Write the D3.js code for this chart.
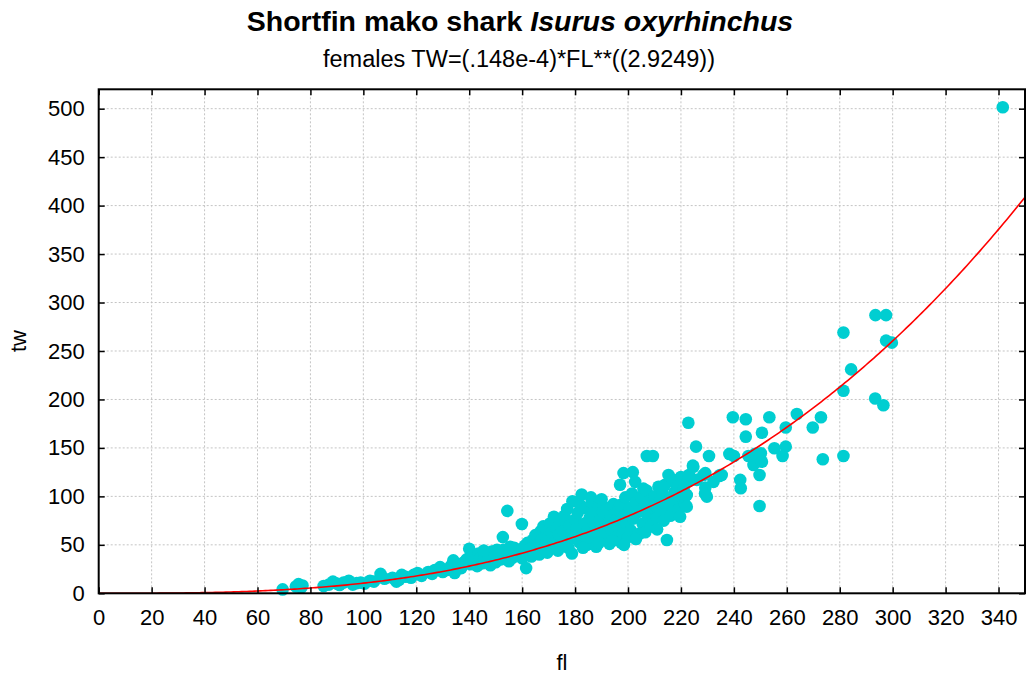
<!DOCTYPE html>
<html>
<head>
<meta charset="utf-8">
<script src="https://cdn.jsdelivr.net/npm/d3@7"></script>
<style>
  html, body { margin: 0; padding: 0; background: #fff; }
  svg { display: block; font-family: "Liberation Sans", Arial, sans-serif; }
</style>
</head>
<body>
<svg id="chart" width="1026" height="678"></svg>
<script>
// Fork length (fl, cm) and total weight (tw, kg) of female shortfin makos
const smallSharks = [
  [69.5,4],[74.5,7],[75.5,9.5],[76.5,6],[77,8],[85,7.5],[87,9],[88.5,12],[90,10],[91,8.5],
  [92.5,11],[94.5,13],[96,9],[97.5,10.5],[99,11],[100.5,10],[102.5,13],[104,12],[106.5,20],[108,15],
  [111,16],[112.5,12],[113.5,14],[114.5,19],[116,17],[118,16],[119,19],[120.5,21],[122,18],[124.5,22],
  [126,20],[127,24],[129,27],[130,22],[131.5,24],[133,28],[134,34],[134.5,21],[136,30],[137,26],
  [138,32],[139,35]
];

const midSharks = [
  [140,46],[140.5,30],[141,38],[142,33],[143,28],[143.5,41],[144,36],[145,31],[146,39],[147,34],
  [148,29],[148.5,43],[149,37],[150,32],[151,40],[152,35],[152.7,58],[153,45],[154.4,85],[154,38],
  [155,33],[156,42],[156.5,37],[157,47],[158,40],[159,44],[159.9,71.5],[160,36],[161.5,26],[161,49],
  [162,52],[162.5,42],[163,46],[163.5,38],[164,55],[164.5,48],[165,60],[165.5,44],[166,51],[166.5,40],
  [167,64],[167.5,56],[168,69],[168.5,47],[169,52],[169.5,42],[170,58],[170.5,72],[171,63],[171.5,49],
  [172,79],[172.5,54],[173,67],[173.5,44],[174,60],[174.5,75],[175,51],[175.5,64],[176,80],[176.5,56],
  [177,87],[177.5,47],[178,70],[178.5,62],[178.8,41],[179,95],[179.5,57],[180,76],[180.5,66],[181,83],
  [181.5,53],[182,91],[182.5,102],[183,60],[183.5,72],[184,88],[184.5,50],[185,66],[185.5,78],[186,99],
  [186.3,94],[186.5,57],[187,83],[187.5,70],[188,48],[188.5,62],[189,90],[189.5,75],[190,55],[190.5,84],
  [191,67],[191.5,59],[192,88],[192.5,72],[193,51],[193.5,80],[194,64],[194.5,92],[195,57],[195.5,76],
  [196,69],[196.5,86],[197,91],[197,112],[197.5,52],[198,62],[198.3,124],[198.5,80],[199,99],[199.5,72],
  [200,58],[200.5,88],[201,65],[201.5,103],[201.8,125],[202,77],[202.7,115],[203,94],[203.5,60],[204,84],
  [204.6,62],[205,99],[205.5,72],[205.8,108],[206,88],[206.5,63],[207,106],[207.1,141.7],[207.5,80],[208,95],
  [208.5,69],[209,86],[209.4,141.7],[209.6,76],[210,100],[210.5,90],[211,78],[211.5,110],[212,96],[212.5,84],
  [213,104],[213.5,75],[214,112],[214.7,55],[215,90],[215.3,122],[215.6,97],[216,80],[217,117],[217.5,104],
  [218,94],[218.5,110],[219,86],[219.7,79],[220,120],[220.5,98],[221,108],[221.5,92],[222.2,101.5],[222.2,89.4],
  [222.5,115],[222.8,176],[223,122],[224.5,131.7],[224.7,130.6],[225.7,151.3],[226,117],
  [145.5,44],[150.5,45],[155.5,48],[183,47],[189,52],[194,54],[198.5,50],[203,56],[211,66],[190,97]
];

const largeSharks = [
  [228.5,122],[229.2,124],[229.2,109],[229.8,99.7],[229.1,103],[230.6,141.7],[232.3,115],[234.5,121],[234.8,122],[235.4,122],
  [238.3,143.8],[239.6,181.6],[240,141.7],[242.4,117],[242.6,108.4],[244.5,179.6],[244.5,161.6],[245.5,141.7],[247.4,132.4],[248,143.8],
  [249.7,122],[249.7,90],[250.2,144.5],[250.6,135.8],[250.6,165.7],[253.4,181.6],[255.3,149.6],[258.4,141.7],[259.6,151.3],[259.6,171],
  [263.8,185],[269.8,171],[272.9,181.6],[273.6,138.3],[281.4,141.7],[281.4,209],[281.4,269],[284.3,231],[293.4,201],[293.5,287],
  [296.5,194],[297.5,287],[297.5,260.7],[299.7,258.6],[341.6,501.5]
];

// Fitted length-weight relation TW = a * FL^b
const coefA = 0.148e-4;
const coefB = 2.9249;

const xTicks = d3.range(0, 341, 20);
const yTicks = d3.range(0, 501, 50);

const titleMain = "Shortfin mako shark ";
const titleSpecies = "Isurus oxyrhinchus";
const subtitle = "females TW=(.148e-4)*FL**((2.9249))";
const xLabel = "fl";
const yLabel = "tw";

const svg = d3.select("#chart");
const plotLeft = 98.7, plotRight = 1025, plotTop = 89.3, plotBottom = 593.3;

const x = d3.scaleLinear().domain([0, 350]).range([plotLeft, plotRight]);
const y = d3.scaleLinear().domain([0, 520]).range([plotBottom, plotTop]);

// grid
const grid = svg.append("g")
  .attr("stroke", "#c4c4c4").attr("stroke-width", 1).attr("stroke-dasharray", "2,2");
grid.selectAll("line.v").data(xTicks.filter(d => d > 0)).join("line")
  .attr("x1", d => x(d)).attr("x2", d => x(d)).attr("y1", plotTop).attr("y2", plotBottom);
grid.selectAll("line.h").data(yTicks.filter(d => d > 0)).join("line")
  .attr("x1", plotLeft).attr("x2", plotRight).attr("y1", d => y(d)).attr("y2", d => y(d));

// points
const allSharks = smallSharks.concat(midSharks, largeSharks);
svg.append("g").selectAll("circle").data(allSharks).join("circle")
  .attr("cx", d => x(d[0])).attr("cy", d => y(d[1])).attr("r", 6.3)
  .attr("fill", "#00CED1");

// fitted curve
const curveData = d3.range(0, 350.01, 1).map(f => [f, coefA * Math.pow(f, coefB)]);
svg.append("clipPath").attr("id", "plotClip").append("rect")
  .attr("x", plotLeft).attr("y", plotTop).attr("width", plotRight - plotLeft).attr("height", plotBottom - plotTop);
svg.append("path").datum(curveData)
  .attr("clip-path", "url(#plotClip)")
  .attr("fill", "none").attr("stroke", "#ff0000").attr("stroke-width", 1.6)
  .attr("d", d3.line().x(d => x(d[0])).y(d => y(d[1])));

// axes with inward ticks on all four sides
const tickLen = 6;
const fmt = d3.format("d");
const axB = svg.append("g").attr("transform", `translate(0,${plotBottom})`)
  .call(d3.axisBottom(x).tickValues(xTicks).tickSizeInner(-tickLen).tickSizeOuter(0).tickPadding(16).tickFormat(fmt));
const axT = svg.append("g").attr("transform", `translate(0,${plotTop})`)
  .call(d3.axisTop(x).tickValues(xTicks).tickSizeInner(-tickLen).tickSizeOuter(0).tickFormat(""));
const axL = svg.append("g").attr("transform", `translate(${plotLeft},0)`)
  .call(d3.axisLeft(y).tickValues(yTicks).tickSizeInner(-tickLen).tickSizeOuter(0).tickPadding(14).tickFormat(fmt));
const axR = svg.append("g").attr("transform", `translate(${plotRight},0)`)
  .call(d3.axisRight(y).tickValues(yTicks).tickSizeInner(-tickLen).tickSizeOuter(0).tickFormat(""));

[axB, axT, axL, axR].forEach(g => {
  g.select(".domain").remove();
  g.selectAll(".tick line").attr("stroke", "#000").attr("stroke-width", 1.5);
  g.selectAll(".tick text").attr("fill", "#000").attr("font-size", 22)
    .attr("font-family", "'Liberation Sans', Arial, sans-serif");
});

// frame
svg.append("rect").attr("x", plotLeft).attr("y", plotTop).attr("width", plotRight - plotLeft).attr("height", plotBottom - plotTop)
  .attr("fill", "none").attr("stroke", "#000").attr("stroke-width", 2);

// titles
const t = svg.append("text").attr("x", 520).attr("y", 31).attr("text-anchor", "middle")
  .attr("font-size", 28.5).attr("font-weight", "bold").attr("fill", "#000");
t.append("tspan").text(titleMain);
t.append("tspan").attr("font-style", "italic").text(titleSpecies);

svg.append("text").attr("x", 519).attr("y", 67).attr("text-anchor", "middle")
  .attr("font-size", 23.5).attr("fill", "#000").text(subtitle);

svg.append("text").attr("x", 562).attr("y", 670).attr("text-anchor", "middle")
  .attr("font-size", 22).attr("fill", "#000").text(xLabel);

svg.append("text").attr("transform", "translate(26,341) rotate(-90)").attr("text-anchor", "middle")
  .attr("font-size", 22).attr("fill", "#000").text(yLabel);
</script>
</body>
</html>
